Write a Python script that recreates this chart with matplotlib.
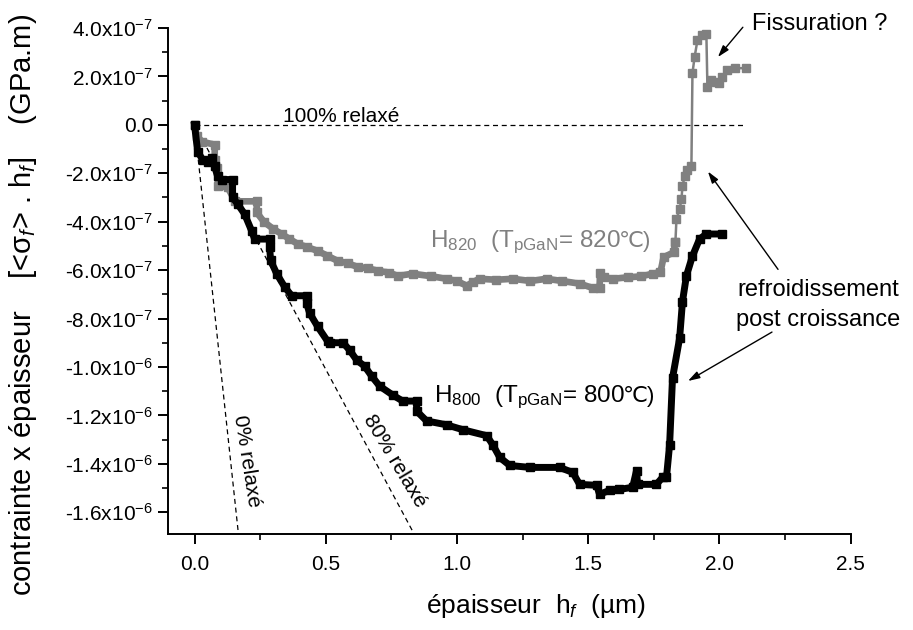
import matplotlib
matplotlib.use('Agg')
import matplotlib.pyplot as plt
import numpy as np
from matplotlib.ticker import FixedLocator, FixedFormatter, MultipleLocator

plt.rcParams['font.family'] = ['Liberation Sans', 'DejaVu Sans']
plt.rcParams['mathtext.fontset'] = 'custom'
plt.rcParams['mathtext.rm'] = 'Liberation Sans'
plt.rcParams['mathtext.it'] = 'Liberation Sans:italic'
plt.rcParams['mathtext.default'] = 'regular'

UNIT = 1e-7  # y values below are in units of 1e-7 GPa.m

# H800 sample (T_pGaN = 800 C) : thickness (um), stress x thickness (1e-7 GPa.m)
h800_x = [0.000, 0.012, 0.031, 0.050, 0.065, 0.077, 0.088, 0.104, 0.145, 0.145,
          0.165, 0.191, 0.218, 0.229, 0.286, 0.286, 0.290, 0.313, 0.343, 0.370,
          0.427, 0.427, 0.439, 0.469, 0.507, 0.518, 0.566, 0.591, 0.618, 0.648,
          0.675, 0.705, 0.755, 0.793, 0.846, 0.846, 0.884, 0.960, 1.021, 1.113,
          1.136, 1.163, 1.201, 1.277, 1.391, 1.441, 1.467, 1.532, 1.543, 1.581,
          1.619, 1.669, 1.684, 1.688, 1.760, 1.783, 1.798, 1.810, 1.821, 1.848,
          1.859, 1.874, 1.897, 1.924, 1.950, 2.008]
h800_y = [0.00, -1.11, -1.44, -1.52, -1.35, -1.72, -2.13, -2.26, -2.26, -3.00,
          -3.28, -3.69, -4.39, -4.72, -4.72, -5.05, -5.60, -6.15, -6.69, -7.06,
          -7.06, -7.38, -7.79, -8.33, -8.94, -9.00, -9.00, -9.31, -9.72, -9.97,
          -10.38, -10.79, -11.16, -11.41, -11.41, -11.82, -12.23, -12.39, -12.59, -12.84,
          -13.21, -13.74, -14.07, -14.15, -14.15, -14.36, -14.85, -14.89, -15.26, -15.10,
          -15.06, -14.97, -14.28, -14.85, -14.85, -14.56, -14.56, -13.21, -10.46, -8.82,
          -7.30, -6.24, -5.42, -4.72, -4.51, -4.51]

# H820 sample (T_pGaN = 820 C) : growth part
h820_grow_x = [0.000, 0.008, 0.029, 0.077, 0.077, 0.085, 0.090, 0.126, 0.155, 0.237,
               0.237, 0.264, 0.300, 0.332, 0.360, 0.393, 0.430, 0.469, 0.505, 0.545,
               0.585, 0.621, 0.660, 0.698, 0.740, 0.774, 0.831, 0.900, 0.960, 1.000,
               1.037, 1.060, 1.086, 1.150, 1.212, 1.280, 1.341, 1.400, 1.467, 1.520,
               1.543, 1.545, 1.560, 1.593, 1.650, 1.700, 1.745, 1.775, 1.787, 1.825,
               1.832]
h820_grow_y = [0.00, -0.45, -0.70, -0.82, -1.44, -1.77, -2.54, -2.58, -3.16, -3.16,
               -3.62, -4.00, -4.30, -4.51, -4.70, -4.92, -5.05, -5.21, -5.40, -5.62,
               -5.72, -5.87, -5.92, -6.03, -6.10, -6.24, -6.15, -6.25, -6.36, -6.45,
               -6.65, -6.50, -6.36, -6.40, -6.36, -6.45, -6.36, -6.45, -6.56, -6.75,
               -6.75, -6.10, -6.30, -6.36, -6.30, -6.26, -6.15, -6.09, -5.47, -5.27,
               -4.86]
# H820 : post-growth cooling part
h820_cool_x = [1.832, 1.836, 1.848, 1.855, 1.859, 1.867, 1.878, 1.893, 1.897, 1.905,
               1.916, 1.935, 1.950, 1.954, 1.969, 1.988, 2.000, 2.011, 2.030, 2.060,
               2.102]
h820_cool_y = [-4.86, -3.90, -3.49, -3.08, -2.54, -2.13, -1.85, -1.72, 2.13, 2.79,
               3.49, 3.69, 3.77, 1.56, 1.85, 1.76, 1.72, 1.97, 2.26, 2.34,
               2.34]

# relaxation reference lines: relaxation (%) and extent in thickness
relax_pct = [0, 80, 100]
relax_xmax = [0.17, 0.84, 2.10]
stress_0 = -1.01e-5  # GPa.m per um, fully strained slope

yticks = [4e-7, 2e-7, 0.0, -2e-7, -4e-7, -6e-7, -8e-7, -1.0e-6, -1.2e-6, -1.4e-6, -1.6e-6]
yticklabels = [r'4.0x10$^{-7}$', r'2.0x10$^{-7}$', '0.0', r'-2.0x10$^{-7}$', r'-4.0x10$^{-7}$',
               r'-6.0x10$^{-7}$', r'-8.0x10$^{-7}$', r'-1.0x10$^{-6}$', r'-1.2x10$^{-6}$',
               r'-1.4x10$^{-6}$', r'-1.6x10$^{-6}$']
xticks = [0.0, 0.5, 1.0, 1.5, 2.0, 2.5]
xticklabels = ['0.0', '0.5', '1.0', '1.5', '2.0', '2.5']

fig = plt.figure(figsize=(9.13, 6.30), dpi=100)
ax = fig.add_axes([0.1843, 0.1524, 0.7475, 0.8032])

GRAY = '#808080'

# reference lines
for r, xm in zip(relax_pct, relax_xmax):
    xs = np.array([0.0, xm])
    ax.plot(xs, stress_0 * (1 - r / 100.0) * xs, color='k', lw=0.9,
            dashes=(4, 3), zorder=1)

ax.plot(np.array(h820_grow_x), np.array(h820_grow_y) * UNIT, color=GRAY, lw=4.8,
        marker='s', ms=5.5, solid_joinstyle='round', zorder=3)
ax.plot(np.array(h820_cool_x), np.array(h820_cool_y) * UNIT, color=GRAY, lw=1.8,
        marker='s', ms=5.5, zorder=3)
ax.plot(np.array(h800_x), np.array(h800_y) * UNIT, color='k', lw=5.0,
        marker='s', ms=6, solid_joinstyle='round', zorder=4)

ax.set_xlim(-0.1, 2.5)
ax.set_ylim(-1.69e-6, 4.0e-7)

for s in ['top', 'right']:
    ax.spines[s].set_visible(False)
for s in ['left', 'bottom']:
    ax.spines[s].set_linewidth(1.4)

ax.xaxis.set_major_locator(FixedLocator(xticks))
ax.xaxis.set_major_formatter(FixedFormatter(xticklabels))
ax.xaxis.set_minor_locator(MultipleLocator(0.25))
ax.yaxis.set_major_locator(FixedLocator(yticks))
ax.yaxis.set_major_formatter(FixedFormatter(yticklabels))
ax.yaxis.set_minor_locator(MultipleLocator(1e-7))
ax.tick_params(which='major', direction='out', length=7, width=1.4, labelsize=15)
ax.tick_params(which='minor', direction='out', length=4, width=1.2)
ax.tick_params(axis='x', pad=8)
ax.tick_params(axis='y', pad=4)

# labels
fig.text(0.587, 0.038, r'épaisseur  h$_{\mathit{f}}$  (µm)', ha='center', va='center', fontsize=19)
fig.text(0.025, 0.516, r'contrainte x épaisseur    [<σ$_{\mathit{f}}$> . h$_{\mathit{f}}$]    (GPa.m)',
         rotation=90, ha='center', va='center', fontsize=21)

ax.text(0.558, 0.12e-7, '100% relaxé', ha='center', va='baseline', fontsize=15)
ax.text(0.197, -13.87e-7, '0% relaxé', ha='center', va='center', fontsize=15, rotation=-81)
ax.text(0.764, -13.87e-7, '80% relaxé', ha='center', va='center', fontsize=15, rotation=-59)


def sample_label(x, y, math_part, tail, color):
    t = ax.text(x, y, math_part, color=color, ha='left', va='baseline', fontsize=17.5)
    ax.annotate(tail, xy=(1, y), xycoords=(t, 'data'), xytext=(-1.5, 0),
                textcoords='offset points', color=color, ha='left',
                va='baseline', fontsize=16, family=['Liberation Sans', 'DejaVu Sans'])


sample_label(0.897, -5.06e-7, r'H$_{820}$  (T$_{pGaN}$= 820', '℃)', GRAY)
sample_label(0.912, -11.44e-7, r'H$_{800}$  (T$_{pGaN}$= 800', '℃)', 'k')

arrow = dict(arrowstyle='-|>,head_length=0.7,head_width=0.22', color='k', lw=1.0,
             shrinkA=0, shrinkB=0)
ax.text(2.124, 4.18e-7, 'Fissuration ?', ha='left', va='center', fontsize=17)
ax.annotate('', xy=(1.994, 2.80e-7), xytext=(2.089, 4.03e-7), arrowprops=arrow,
            annotation_clip=False)
ax.text(2.375, -7.45e-7, 'refroidissement\npost croissance', ha='center', va='center',
        fontsize=17, linespacing=1.45)
ax.annotate('', xy=(1.956, -1.93e-7), xytext=(2.223, -5.97e-7), arrowprops=arrow,
            annotation_clip=False)
ax.annotate('', xy=(1.88, -10.58e-7), xytext=(2.20, -8.56e-7), arrowprops=arrow,
            annotation_clip=False)

fig.savefig('out.png', dpi=100)
